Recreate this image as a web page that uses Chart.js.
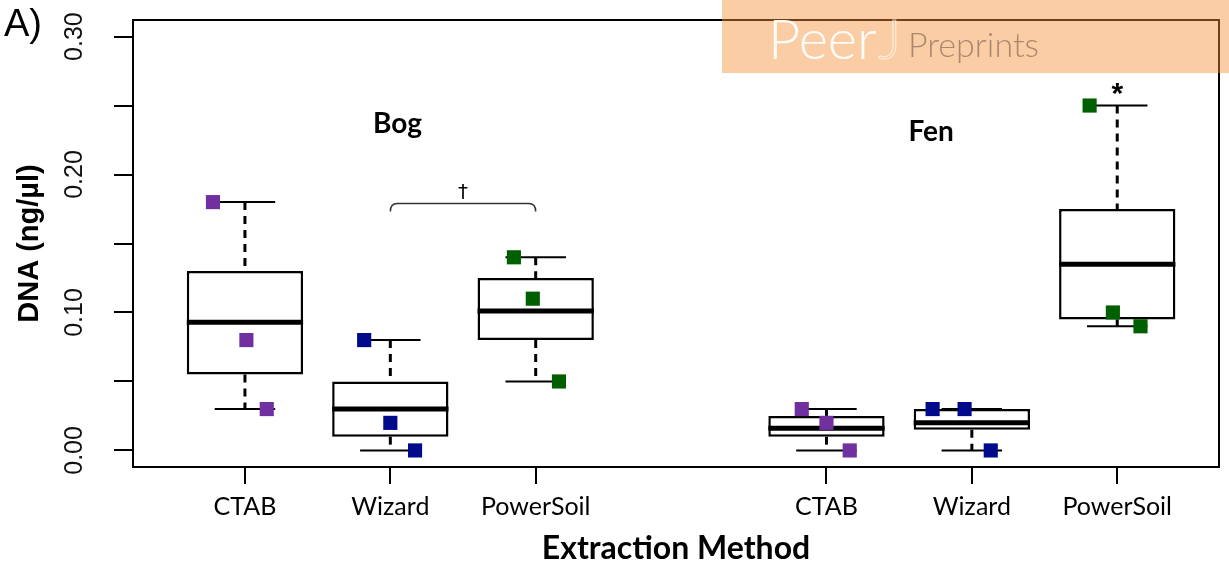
<!DOCTYPE html>
<html>
<head>
    <title>DNA yield by extraction method</title>
    <script src="https://cdn.jsdelivr.net/npm/chart.js"></script>
    <style>
        body {
            margin: 0;
            padding: 0;
            background: white;
        }
        #wrap {
            width: 1229px;
            height: 569px;
            position: relative;
        }
    </style>
</head>
<body>
    <div id="wrap"><canvas id="dnaChart"></canvas></div>

    <script>
        // box positions on the x axis (slot 4 is the gap between Bog and Fen)
        const boxPos = [1, 2, 3, 5, 6, 7];
        const tickLabels = ["CTAB", "Wizard", "PowerSoil", "CTAB", "Wizard", "PowerSoil"];
        const groupLabels = ["Bog", "Fen"];

        // box statistics, one value per box
        const whiskerLow  = [0.030, 0.000, 0.050, 0.000, 0.000, 0.090];
        const q1          = [0.055, 0.010, 0.080, 0.010, 0.015, 0.095];
        const median      = [0.093, 0.030, 0.101, 0.016, 0.020, 0.135];
        const q3          = [0.130, 0.050, 0.125, 0.025, 0.030, 0.175];
        const whiskerHigh = [0.180, 0.080, 0.140, 0.030, 0.030, 0.250];

        // individual samples (jittered x)
        const ctabX = [0.78, 1.01, 1.15, 4.83, 5.00, 5.16];
        const ctabY = [0.18, 0.08, 0.03, 0.03, 0.02, 0.00];
        const wizardX = [1.82, 2.00, 2.17, 5.73, 5.95, 6.13];
        const wizardY = [0.08, 0.02, 0.00, 0.03, 0.03, 0.00];
        const powerSoilX = [2.85, 2.98, 3.16, 6.81, 6.97, 7.16];
        const powerSoilY = [0.14, 0.11, 0.05, 0.25, 0.10, 0.09];

        const yTicks = [0, 0.05, 0.10, 0.15, 0.20, 0.25, 0.30];
        const yTickLabels = ["0.00", "", "0.10", "", "0.20", "", "0.30"];

        function toPoints(xs, ys) {
            return xs.map((x, i) => ({ x: x, y: ys[i] }));
        }

        function line(ctx, x1, y1, x2, y2) {
            ctx.beginPath();
            ctx.moveTo(x1, y1);
            ctx.lineTo(x2, y2);
            ctx.stroke();
        }

        // whiskers, staples and medians, drawn right after the boxes
        const boxExtras = {
            id: "boxExtras",
            afterDatasetDraw(chart, args) {
                if (args.index !== 3) return;
                const ctx = chart.ctx;
                const x = chart.scales.x;
                const y = chart.scales.y;
                const bars = chart.getDatasetMeta(3).data;
                ctx.save();
                ctx.strokeStyle = "#000";
                for (let i = 0; i < boxPos.length; i++) {
                    const cx = x.getPixelForValue(boxPos[i]);
                    const half = bars[i].width / 2;
                    const staple = half * 0.52;
                    ctx.lineWidth = 3;
                    ctx.setLineDash([8, 6]);
                    if (whiskerHigh[i] > q3[i]) {
                        line(ctx, cx, y.getPixelForValue(whiskerHigh[i]), cx, y.getPixelForValue(q3[i]));
                    }
                    if (whiskerLow[i] < q1[i]) {
                        line(ctx, cx, y.getPixelForValue(q1[i]), cx, y.getPixelForValue(whiskerLow[i]));
                    }
                    ctx.setLineDash([]);
                    ctx.lineWidth = 2;
                    line(ctx, cx - staple, y.getPixelForValue(whiskerHigh[i]), cx + staple, y.getPixelForValue(whiskerHigh[i]));
                    line(ctx, cx - staple, y.getPixelForValue(whiskerLow[i]), cx + staple, y.getPixelForValue(whiskerLow[i]));
                    ctx.lineWidth = 5;
                    line(ctx, cx - half, y.getPixelForValue(median[i]), cx + half, y.getPixelForValue(median[i]));
                }
                ctx.restore();
            }
        };

        // frame, rotated y labels, group names, significance marks, panel letter, watermark
        const decorations = {
            id: "decorations",
            afterDraw(chart) {
                const ctx = chart.ctx;
                const a = chart.chartArea;
                const x = chart.scales.x;
                const y = chart.scales.y;
                ctx.save();

                ctx.strokeStyle = "#000";
                ctx.lineWidth = 2;
                ctx.strokeRect(a.left, a.top, a.right - a.left, a.bottom - a.top);

                ctx.fillStyle = "#111";
                ctx.font = '25px "Liberation Sans", Arial, sans-serif';
                ctx.textAlign = "center";
                ctx.textBaseline = "middle";
                yTicks.forEach((v, i) => {
                    if (!yTickLabels[i]) return;
                    ctx.save();
                    ctx.translate(a.left - 58, y.getPixelForValue(v));
                    ctx.rotate(-Math.PI / 2);
                    ctx.fillText(yTickLabels[i], 0, 0);
                    ctx.restore();
                });

                ctx.fillStyle = "#000";
                ctx.font = 'bold 28px Lato, sans-serif';
                ctx.fillText(groupLabels[0], x.getPixelForValue(2.05), y.getPixelForValue(0.237));
                ctx.fillText(groupLabels[1], x.getPixelForValue(5.72), y.getPixelForValue(0.231));

                // dagger bracket between Bog Wizard and Bog PowerSoil
                const bx1 = x.getPixelForValue(2);
                const bx2 = x.getPixelForValue(3);
                const by = y.getPixelForValue(0.179);
                ctx.strokeStyle = "#333";
                ctx.lineWidth = 1.5;
                ctx.beginPath();
                ctx.moveTo(bx1, by + 8);
                ctx.quadraticCurveTo(bx1, by, bx1 + 7, by);
                ctx.lineTo(bx2 - 7, by);
                ctx.quadraticCurveTo(bx2, by, bx2, by + 8);
                ctx.stroke();
                ctx.font = '20px "DejaVu Sans", sans-serif';
                ctx.fillText("\u2020", (bx1 + bx2) / 2, by - 11);

                ctx.font = 'bold 30px "Liberation Sans", Arial, sans-serif';
                ctx.fillText("*", x.getPixelForValue(7), y.getPixelForValue(0.258));

                ctx.textAlign = "left";
                ctx.textBaseline = "alphabetic";
                ctx.font = '38px "Liberation Sans", Arial, sans-serif';
                ctx.fillText("A)", 4, 36);

                // PeerJ Preprints watermark
                ctx.fillStyle = "rgba(243, 145, 55, 0.45)";
                ctx.fillRect(722, 0, chart.width - 722, 73);
                ctx.font = '300 56px Lato, sans-serif';
                ctx.fillStyle = "rgba(255, 255, 255, 0.95)";
                ctx.fillText("Peer", 768, 59);
                ctx.strokeStyle = "rgba(255, 255, 255, 0.7)";
                ctx.lineWidth = 1;
                ctx.strokeText("J", 878, 59);
                ctx.font = '300 34px Lato, sans-serif';
                ctx.fillStyle = "rgba(105, 80, 65, 0.55)";
                ctx.fillText("Preprints", 908, 57);

                ctx.restore();
            }
        };

        new Chart(document.getElementById("dnaChart"), {
            type: "bar",
            data: {
                datasets: [
                    {
                        type: "scatter",
                        label: "CTAB",
                        data: toPoints(ctabX, ctabY),
                        pointStyle: "rect",
                        pointRadius: 10,
                        pointBorderWidth: 0,
                        backgroundColor: "#70309F"
                    },
                    {
                        type: "scatter",
                        label: "Wizard",
                        data: toPoints(wizardX, wizardY),
                        pointStyle: "rect",
                        pointRadius: 10,
                        pointBorderWidth: 0,
                        backgroundColor: "#000A8A"
                    },
                    {
                        type: "scatter",
                        label: "PowerSoil",
                        data: toPoints(powerSoilX, powerSoilY),
                        pointStyle: "rect",
                        pointRadius: 10,
                        pointBorderWidth: 0,
                        backgroundColor: "#006000"
                    },
                    {
                        type: "bar",
                        label: "boxes",
                        data: boxPos.map((p, i) => ({ x: p, y: [q1[i], q3[i]] })),
                        backgroundColor: "#fff",
                        borderColor: "#000",
                        borderWidth: 2.5,
                        borderSkipped: false,
                        barPercentage: 0.8,
                        categoryPercentage: 1.0
                    }
                ]
            },
            options: {
                responsive: true,
                maintainAspectRatio: false,
                animation: false,
                layout: { padding: { top: 20, right: 3, left: 0, bottom: 0 } },
                plugins: {
                    legend: { display: false },
                    tooltip: { enabled: false }
                },
                scales: {
                    x: {
                        type: "linear",
                        min: 0.23,
                        max: 7.70,
                        offset: false,
                        afterBuildTicks: s => { s.ticks = boxPos.map(v => ({ value: v })); },
                        afterFit: s => { s.height = 102; },
                        grid: { offset: false, drawOnChartArea: false, drawTicks: true, tickLength: 17, color: "#000", lineWidth: 2 },
                        border: { display: false },
                        ticks: {
                            font: { family: "Lato", size: 25 },
                            color: "#000",
                            padding: 8,
                            maxRotation: 0,
                            autoSkip: false,
                            callback: (v, i) => tickLabels[i]
                        },
                        title: {
                            display: true,
                            text: "Extraction Method",
                            font: { family: "Lato", size: 32, weight: "bold" },
                            color: "#000",
                            padding: { top: 0, bottom: 1 }
                        }
                    },
                    y: {
                        min: -0.012,
                        max: 0.312,
                        afterBuildTicks: s => { s.ticks = yTicks.map(v => ({ value: v })); },
                        afterFit: s => { s.width = 133; },
                        grid: { drawOnChartArea: false, drawTicks: true, tickLength: 19, color: "#000", lineWidth: 2 },
                        border: { display: false },
                        ticks: { display: false },
                        title: {
                            display: true,
                            text: "DNA (ng/\u00b5l)",
                            font: { family: '"Liberation Sans", Arial, sans-serif', size: 29, weight: "bold" },
                            color: "#000",
                            padding: { top: 13, bottom: 0 }
                        }
                    }
                }
            },
            plugins: [boxExtras, decorations]
        });
    </script>
</body>
</html>
